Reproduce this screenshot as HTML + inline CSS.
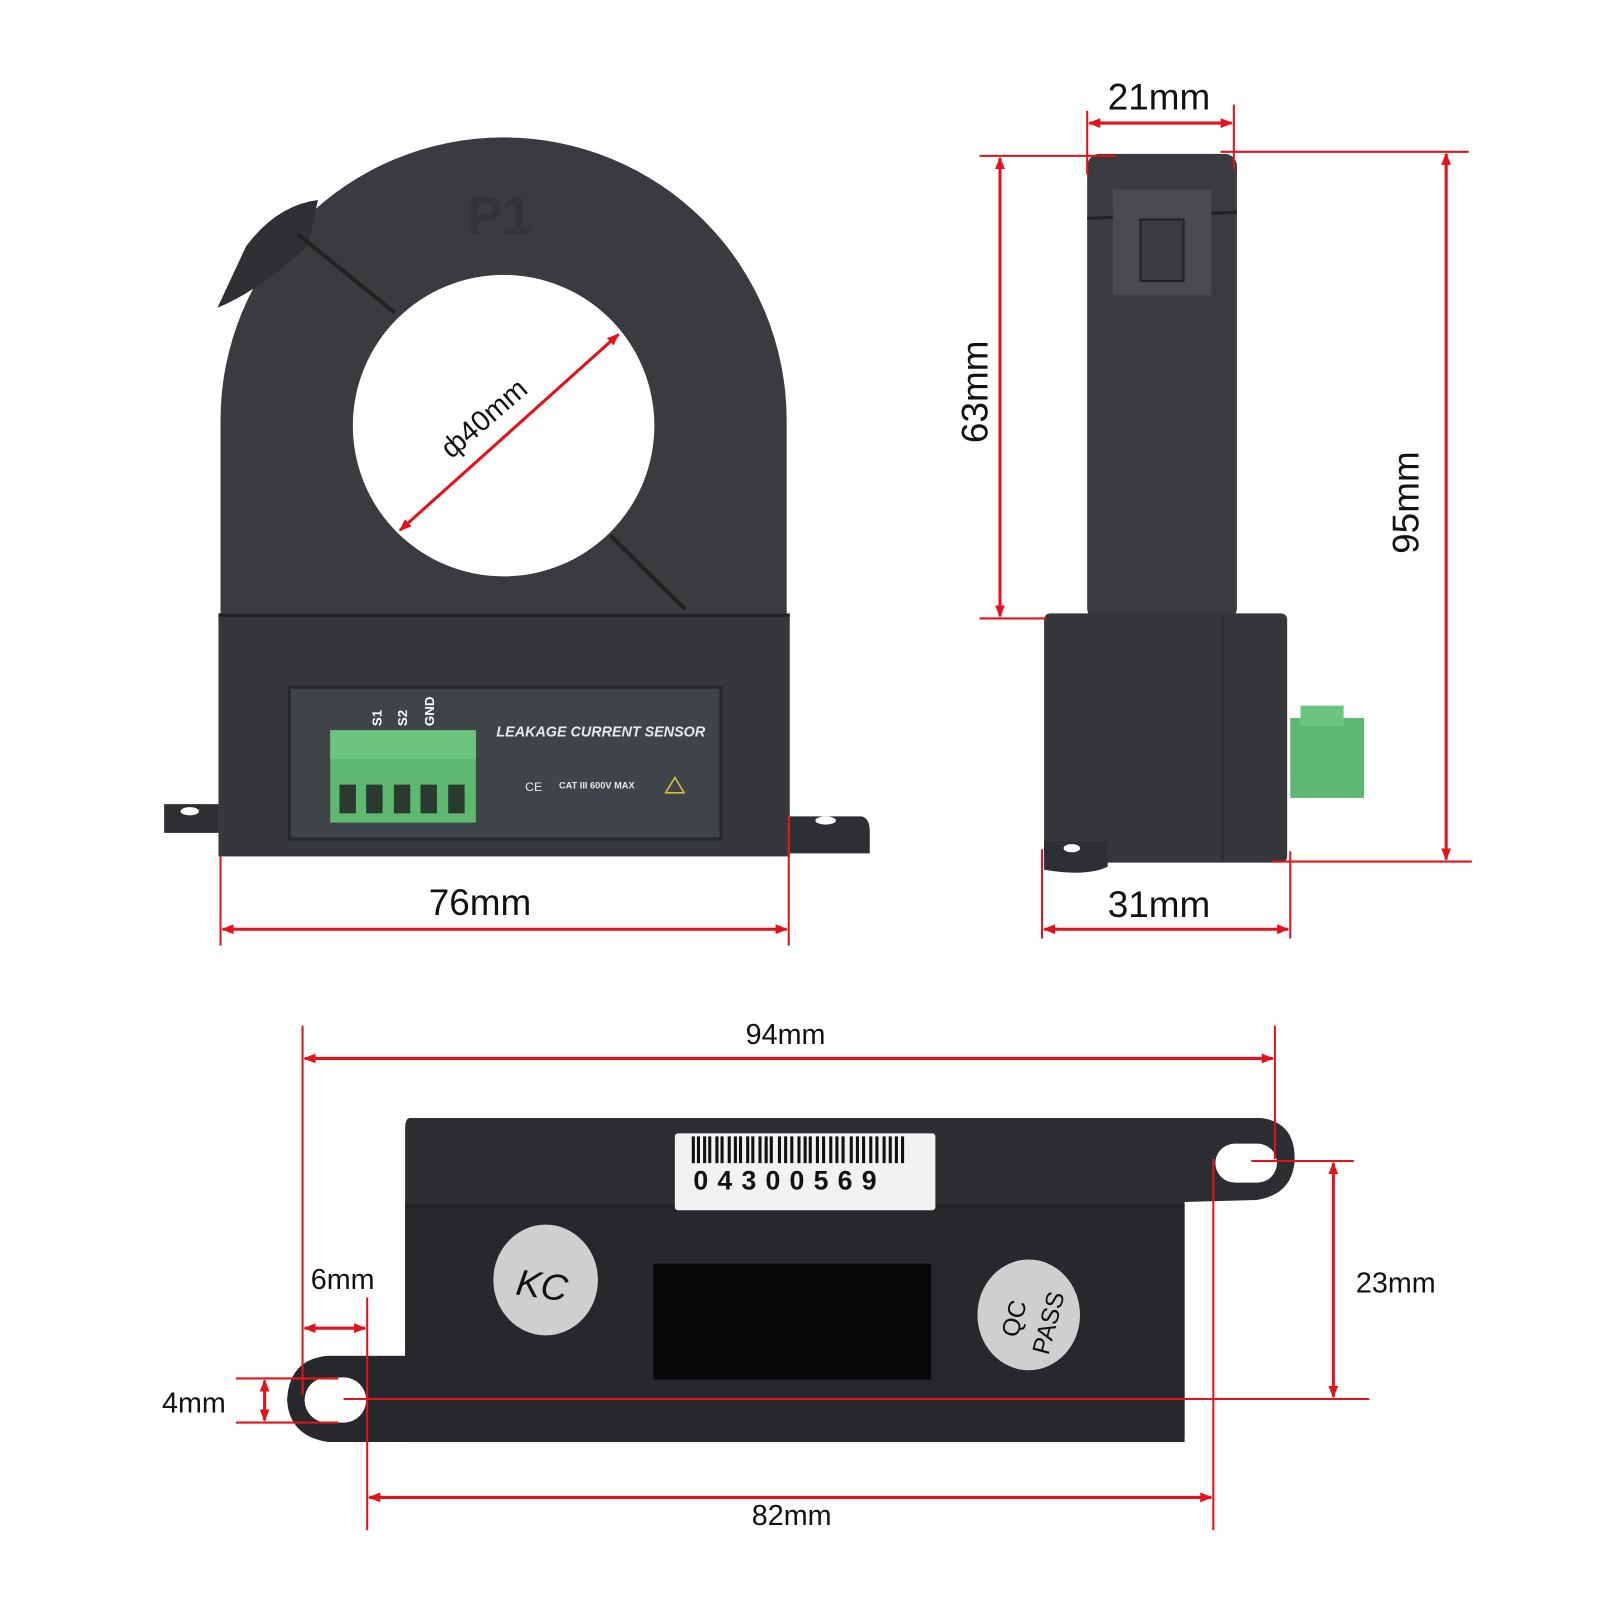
<!DOCTYPE html>
<html><head><meta charset="utf-8"><style>
html,body{margin:0;padding:0;background:#fff;width:1600px;height:1600px;overflow:hidden}
svg{display:block}
text{font-family:"Liberation Sans",sans-serif}
</style></head><body>
<svg width="1600" height="1600" viewBox="0 0 1560 1560" xmlns="http://www.w3.org/2000/svg">
<defs>
<marker id="a" viewBox="0 0 10 10" refX="9" refY="5" markerWidth="12" markerHeight="12" orient="auto-start-reverse" markerUnits="userSpaceOnUse"><path d="M0,1 L10,5 L0,9 z" fill="#e3121b"/></marker>
</defs>
<!-- FRONT VIEW -->
<path d="M215,600 L215,410 A276,276 0 0 1 767,410 L767,600 Z" fill="#3a3b3f"/>
<path d="M212,300 L240,240 Q270,200 310,195 L300,240 Q250,285 212,300Z" fill="#2f3034"/>
<line x1="290" y1="228" x2="385" y2="305" stroke="#222" stroke-width="4"/>
<line x1="595" y1="522" x2="668" y2="594" stroke="#222" stroke-width="4"/>
<text x="455" y="228" font-size="52" font-weight="bold" fill="#333438">P1</text>
<circle cx="491" cy="415" r="147" fill="#fff"/>
<path d="M160,784 L213,784 L213,812 L160,812 Z" fill="#2e2f33" rx="6"/>
<path d="M770,796 L840,796 Q848,798 848,810 L848,832 L770,832 Z" fill="#2e2f33"/>
<ellipse cx="185" cy="791" rx="9" ry="4" fill="#fff"/>
<ellipse cx="805" cy="800" rx="10" ry="4" fill="#fff"/>
<rect x="213" y="598" width="557" height="237" fill="#36373b"/>
<line x1="213" y1="600" x2="770" y2="600" stroke="#222" stroke-width="3"/>
<rect x="282" y="670" width="421" height="148" fill="#3f4449" stroke="#26282b" stroke-width="3"/>
<rect x="322" y="712" width="142" height="90" fill="#5fb872"/>
<rect x="322" y="712" width="142" height="28" fill="#6cc47e"/>
<g fill="#2a3a2e"><rect x="331" y="765" width="16" height="28"/><rect x="357" y="765" width="16" height="28"/><rect x="384" y="765" width="16" height="28"/><rect x="410" y="765" width="16" height="28"/><rect x="437" y="765" width="16" height="28"/></g>
<g fill="#fff" font-size="13" font-weight="bold">
<text transform="translate(372,708) rotate(-90)">S1</text>
<text transform="translate(397,708) rotate(-90)">S2</text>
<text transform="translate(423,708) rotate(-90)">GND</text>
</g>
<text x="484" y="718" font-size="14" font-weight="bold" font-style="italic" fill="#e8e8e8">LEAKAGE CURRENT SENSOR</text>
<text x="512" y="771" font-size="12" fill="#e8e8e8">CE</text>
<text x="545" y="769" font-size="9" font-weight="bold" fill="#e8e8e8">CAT III 600V MAX</text>
<path d="M658,758 L667,773 L649,773 Z" fill="none" stroke="#d8c33a" stroke-width="1.5"/>
<!-- phi 40 -->
<line x1="390" y1="517" x2="603" y2="326" stroke="#e3121b" stroke-width="3" marker-start="url(#a)" marker-end="url(#a)"/>
<text transform="translate(440,448) rotate(-41)" font-size="28" fill="#111">ф40mm</text>
<!-- 76mm -->
<line x1="215" y1="835" x2="215" y2="922" stroke="#e3121b" stroke-width="2"/>
<line x1="769" y1="795" x2="769" y2="922" stroke="#e3121b" stroke-width="2"/>
<line x1="217" y1="906" x2="767" y2="906" stroke="#e3121b" stroke-width="3" marker-start="url(#a)" marker-end="url(#a)"/>
<text x="418" y="892" font-size="36" fill="#111">76mm</text>
<!-- SIDE VIEW -->
<rect x="1060" y="150" width="146" height="455" rx="12" fill="#3a3b3f"/>
<line x1="1060" y1="213" x2="1206" y2="207" stroke="#222" stroke-width="3"/>
<rect x="1085" y="185" width="96" height="103" fill="#4a4b50"/>
<rect x="1112" y="214" width="42" height="60" fill="#3a3b3f" stroke="#222" stroke-width="2"/>
<rect x="1018" y="598" width="237" height="243" rx="6" fill="#36373b"/>
<line x1="1192" y1="600" x2="1192" y2="840" stroke="#2a2b2e" stroke-width="2"/>
<path d="M1018,820 L1080,820 L1080,845 Q1060,855 1018,848 Z" fill="#2e2f33"/>
<ellipse cx="1045" cy="827" rx="8" ry="4" fill="#fff"/>
<rect x="1258" y="700" width="72" height="78" fill="#5fb872"/>
<rect x="1268" y="688" width="42" height="20" fill="#6cc47e"/>
<!-- 21mm -->
<line x1="1060" y1="108" x2="1060" y2="170" stroke="#e3121b" stroke-width="2"/>
<line x1="1203" y1="102" x2="1203" y2="165" stroke="#e3121b" stroke-width="2"/>
<line x1="1062" y1="120" x2="1201" y2="120" stroke="#e3121b" stroke-width="3" marker-start="url(#a)" marker-end="url(#a)"/>
<text x="1080" y="107" font-size="36" fill="#111">21mm</text>
<!-- 63mm -->
<line x1="955" y1="152" x2="1088" y2="152" stroke="#e3121b" stroke-width="2"/>
<line x1="955" y1="603" x2="1020" y2="603" stroke="#e3121b" stroke-width="2"/>
<line x1="975" y1="154" x2="975" y2="601" stroke="#e3121b" stroke-width="3" marker-start="url(#a)" marker-end="url(#a)"/>
<text transform="translate(963,432) rotate(-90)" font-size="36" fill="#111">63mm</text>
<!-- 95mm -->
<line x1="1190" y1="148" x2="1432" y2="148" stroke="#e3121b" stroke-width="2"/>
<line x1="1240" y1="840" x2="1435" y2="840" stroke="#e3121b" stroke-width="2"/>
<line x1="1410" y1="150" x2="1410" y2="838" stroke="#e3121b" stroke-width="3" marker-start="url(#a)" marker-end="url(#a)"/>
<text transform="translate(1383,540) rotate(-90)" font-size="36" fill="#111">95mm</text>
<!-- 31mm -->
<line x1="1016" y1="828" x2="1016" y2="915" stroke="#e3121b" stroke-width="2"/>
<line x1="1258" y1="830" x2="1258" y2="915" stroke="#e3121b" stroke-width="2"/>
<line x1="1018" y1="906" x2="1256" y2="906" stroke="#e3121b" stroke-width="3" marker-start="url(#a)" marker-end="url(#a)"/>
<text x="1080" y="894" font-size="36" fill="#111">31mm</text>
<!-- BOTTOM VIEW -->
<path d="M400,1090 L1230,1090 Q1265,1095 1262,1135 Q1258,1165 1225,1170 L1155,1172 L1155,1400 Q1155,1406 1148,1406 L320,1406 Q282,1400 280,1365 Q282,1325 320,1322 L395,1322 L395,1100 Q395,1090 400,1090 Z" fill="#2d2e32"/>
<line x1="395" y1="1176" x2="1155" y2="1176" stroke="#222" stroke-width="3"/>
<rect x="395" y="1178" width="760" height="228" fill="#27282b"/>
<path d="M320,1322 L395,1322 L395,1406 L320,1406 Q282,1400 280,1365 Q282,1325 320,1322Z" fill="#27282b"/>
<rect x="297" y="1343" width="60" height="44" rx="22" fill="#fff"/>
<rect x="1185" y="1115" width="60" height="38" rx="19" fill="#fff"/>
<rect x="658" y="1105" width="254" height="75" rx="3" fill="#f2f2f2"/>
<g stroke="#111">
<path d="M676,1108 V1134 M681,1108 V1134 M687,1108 V1134 M692,1108 V1134 M699,1108 V1134 M704,1108 V1134 M711,1108 V1134 M717,1108 V1134 M722,1108 V1134 M729,1108 V1134 M734,1108 V1134 M741,1108 V1134 M747,1108 V1134 M752,1108 V1134 M760,1108 V1134 M766,1108 V1134 M772,1108 V1134 M779,1108 V1134 M785,1108 V1134 M790,1108 V1134 M797,1108 V1134 M803,1108 V1134 M810,1108 V1134 M816,1108 V1134 M822,1108 V1134 M830,1108 V1134 M836,1108 V1134 M842,1108 V1134 M849,1108 V1134 M855,1108 V1134 M862,1108 V1134 M868,1108 V1134 M874,1108 V1134 M880,1108 V1134" stroke-width="3"/>
</g>
<text x="676" y="1160" font-size="26" font-weight="bold" fill="#111" letter-spacing="9">04300569</text>
<ellipse cx="532" cy="1248" rx="51" ry="54" fill="#cfcfcf"/>
<text transform="translate(502,1262) rotate(8)" font-size="36" font-style="italic" fill="#111">KC</text>
<rect x="637" y="1232" width="271" height="113" fill="#08080a"/>
<ellipse cx="1003" cy="1282" rx="50" ry="54" fill="#cfcfcf"/>
<text transform="translate(992,1305) rotate(-75)" font-size="24" fill="#111">QC</text>
<text transform="translate(1022,1322) rotate(-75)" font-size="24" fill="#111">PASS</text>
<!-- dims bottom -->
<line x1="295" y1="1000" x2="295" y2="1360" stroke="#e3121b" stroke-width="2"/>
<line x1="1243" y1="1000" x2="1243" y2="1130" stroke="#e3121b" stroke-width="2"/>
<line x1="297" y1="1032" x2="1241" y2="1032" stroke="#e3121b" stroke-width="3" marker-start="url(#a)" marker-end="url(#a)"/>
<text x="727" y="1018" font-size="28" fill="#111">94mm</text>
<line x1="358" y1="1265" x2="358" y2="1492" stroke="#e3121b" stroke-width="2"/>
<line x1="1183" y1="1130" x2="1183" y2="1492" stroke="#e3121b" stroke-width="2"/>
<line x1="360" y1="1460" x2="1181" y2="1460" stroke="#e3121b" stroke-width="3" marker-start="url(#a)" marker-end="url(#a)"/>
<text x="733" y="1487" font-size="28" fill="#111">82mm</text>
<line x1="297" y1="1295" x2="356" y2="1295" stroke="#e3121b" stroke-width="3" marker-start="url(#a)" marker-end="url(#a)"/>
<text x="303" y="1257" font-size="28" fill="#111">6mm</text>
<line x1="230" y1="1344" x2="330" y2="1344" stroke="#e3121b" stroke-width="2"/>
<line x1="230" y1="1387" x2="330" y2="1387" stroke="#e3121b" stroke-width="2"/>
<line x1="258" y1="1346" x2="258" y2="1385" stroke="#e3121b" stroke-width="3" marker-start="url(#a)" marker-end="url(#a)"/>
<text x="158" y="1377" font-size="28" fill="#111">4mm</text>
<line x1="335" y1="1364" x2="1335" y2="1364" stroke="#e3121b" stroke-width="2"/>
<line x1="1220" y1="1132" x2="1320" y2="1132" stroke="#e3121b" stroke-width="2"/>
<line x1="1300" y1="1134" x2="1300" y2="1362" stroke="#e3121b" stroke-width="3" marker-start="url(#a)" marker-end="url(#a)"/>
<text x="1322" y="1260" font-size="28" fill="#111">23mm</text>
</svg>
</body></html>
